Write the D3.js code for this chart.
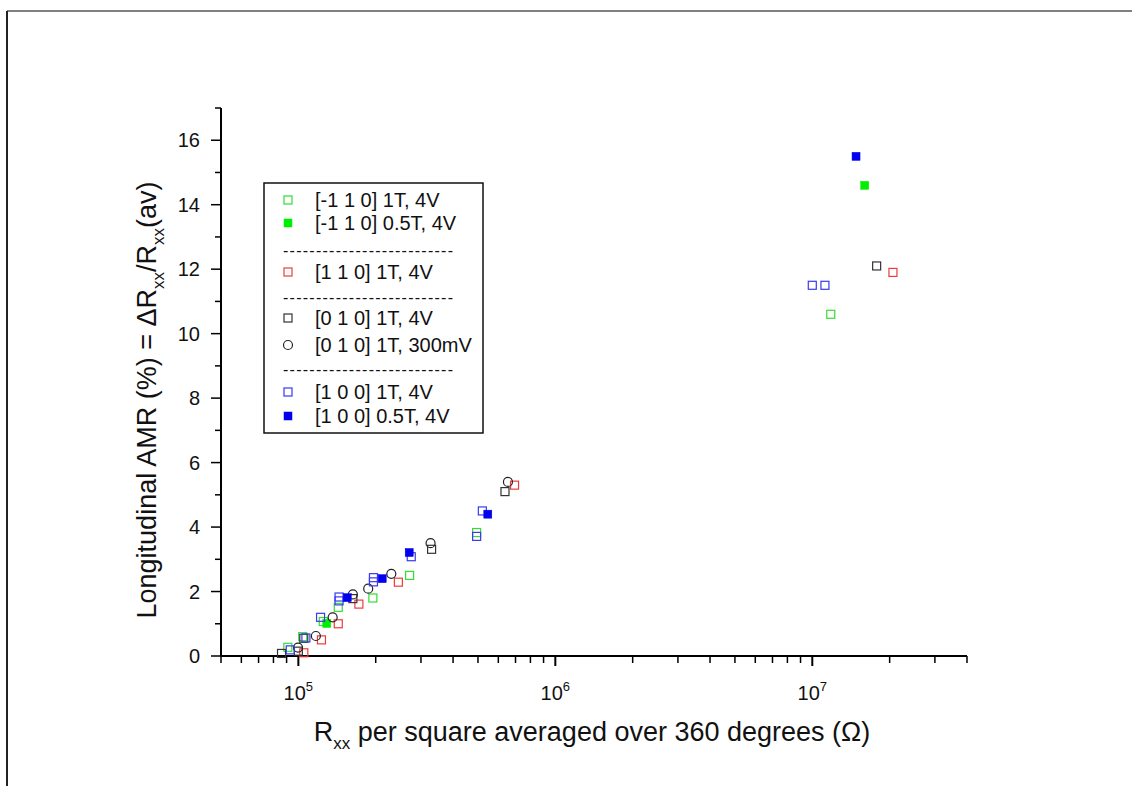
<!DOCTYPE html>
<html>
<head>
<meta charset="utf-8">
<script src="https://cdn.jsdelivr.net/npm/d3@7"></script>
<style>
  body { margin: 0; background: #fff; }
  svg { display: block; font-family: Arial, "Liberation Sans", sans-serif; }
</style>
</head>
<body>
<div id="chart"></div>
<script>
// data: [R_xx (ohm), AMR (%)]
const greenOpen = [[9.1e4, 0.27], [1.04e5, 0.6], [1.25e5, 1.07], [1.43e5, 1.51], [1.95e5, 1.8], [2.71e5, 2.5], [4.94e5, 3.83], [1.18e7, 10.6]];
const greenFilled = [[1.29e5, 1.01], [1.6e7, 14.6]];
const redOpen = [[1.05e5, 0.1], [1.23e5, 0.5], [1.43e5, 1.0], [1.72e5, 1.61], [2.45e5, 2.29], [6.94e5, 5.3], [2.06e7, 11.9]];
const blackOpen = [[8.6e4, 0.08], [1.0e5, 0.15], [1.05e5, 0.55], [1.63e5, 1.78], [3.3e5, 3.31], [6.37e5, 5.1], [1.78e7, 12.1]];
const circles = [[9.97e4, 0.26], [1.17e5, 0.62], [1.36e5, 1.2], [1.63e5, 1.91], [1.87e5, 2.09], [2.3e5, 2.55], [3.27e5, 3.5], [6.54e5, 5.4]];
const blueOpen = [[9.3e4, 0.19], [1.07e5, 0.56], [1.22e5, 1.2], [1.44e5, 1.83], [1.44e5, 1.71], [1.96e5, 2.43], [1.96e5, 2.3], [2.75e5, 3.08], [4.94e5, 3.71], [5.2e5, 4.5], [1.0e7, 11.5], [1.12e7, 11.5]];
const blueFilled = [[1.55e5, 1.81], [2.12e5, 2.4], [2.7e5, 3.21], [5.46e5, 4.4], [1.48e7, 15.5]];

const yMajor = [0, 2, 4, 6, 8, 10, 12, 14, 16];
const xDecades = [5, 6, 7];

const series = [
  { name: "[-1 1 0] 1T, 4V", data: greenOpen, shape: "square", fill: "none", stroke: "#33dd33" },
  { name: "[-1 1 0] 0.5T, 4V", data: greenFilled, shape: "square", fill: "#00ee00", stroke: "#00ee00" },
  { name: "sep" },
  { name: "[1 1 0] 1T, 4V", data: redOpen, shape: "square", fill: "none", stroke: "#ee3b3b" },
  { name: "sep" },
  { name: "[0 1 0] 1T, 4V", data: blackOpen, shape: "square", fill: "none", stroke: "#333" },
  { name: "[0 1 0] 1T, 300mV", data: circles, shape: "circle", fill: "none", stroke: "#222" },
  { name: "sep" },
  { name: "[1 0 0] 1T, 4V", data: blueOpen, shape: "square", fill: "none", stroke: "#3a3aee" },
  { name: "[1 0 0] 0.5T, 4V", data: blueFilled, shape: "square", fill: "#0000ee", stroke: "#0000ee" }
];

const width = 1132, height = 786;
const svg = d3.select("#chart").append("svg")
  .attr("width", width)
  .attr("height", height);

// page frame
svg.append("line").attr("x1", 7).attr("y1", 11).attr("x2", width).attr("y2", 11)
  .attr("stroke", "#808080").attr("stroke-width", 2);
svg.append("line").attr("x1", 7).attr("y1", 11).attr("x2", 7).attr("y2", height)
  .attr("stroke", "#222").attr("stroke-width", 2);

const x = d3.scaleLog().domain([5e4, 4e7]).range([221, 967]);
const y = d3.scaleLinear().domain([0, 17]).range([656, 108]);

// x axis
const xMinor = [];
for (let e = 4; e <= 7; e++) {
  for (let m = 1; m <= 9; m++) {
    const v = m * Math.pow(10, e);
    if (v >= 5e4 && v <= 4e7 && m !== 1) xMinor.push(v);
  }
}
const gx = svg.append("g");
gx.append("line").attr("x1", x.range()[0]).attr("x2", x.range()[1])
  .attr("y1", y(0)).attr("y2", y(0)).attr("stroke", "#000").attr("stroke-width", 2);
gx.selectAll(".xminor").data(xMinor).enter().append("line")
  .attr("x1", (d) => x(d)).attr("x2", (d) => x(d))
  .attr("y1", y(0)).attr("y2", y(0) + 7)
  .attr("stroke", "#000").attr("stroke-width", 1.5);
gx.selectAll(".xmajor").data(xDecades).enter().append("line")
  .attr("x1", (d) => x(Math.pow(10, d))).attr("x2", (d) => x(Math.pow(10, d)))
  .attr("y1", y(0)).attr("y2", y(0) + 10)
  .attr("stroke", "#000").attr("stroke-width", 2);
const xl = gx.selectAll(".xlab").data(xDecades).enter().append("text")
  .attr("x", (d) => x(Math.pow(10, d)))
  .attr("y", 700)
  .attr("text-anchor", "middle")
  .attr("font-size", 20)
  .attr("fill", "#111");
xl.append("tspan").text("10");
xl.append("tspan").attr("dy", -9).attr("font-size", 13).text((d) => d);

// y axis
const gy = svg.append("g");
gy.append("line").attr("x1", x.range()[0]).attr("x2", x.range()[0])
  .attr("y1", y(0)).attr("y2", y(17)).attr("stroke", "#000").attr("stroke-width", 2);
gy.selectAll(".ymajor").data(yMajor).enter().append("line")
  .attr("x1", x.range()[0] - 10).attr("x2", x.range()[0])
  .attr("y1", (d) => y(d)).attr("y2", (d) => y(d))
  .attr("stroke", "#000").attr("stroke-width", 1.5);
gy.selectAll(".yminor").data(yMajor.map((d) => d + 1)).enter().append("line")
  .attr("x1", x.range()[0] - 6).attr("x2", x.range()[0])
  .attr("y1", (d) => y(d)).attr("y2", (d) => y(d))
  .attr("stroke", "#000").attr("stroke-width", 1.5);
gy.selectAll(".ylab").data(yMajor).enter().append("text")
  .attr("x", 200)
  .attr("y", (d) => y(d))
  .attr("dy", "0.36em")
  .attr("text-anchor", "end")
  .attr("font-size", 20)
  .attr("fill", "#111")
  .text((d) => d);

// axis titles
const xt = svg.append("text")
  .attr("x", 592).attr("y", 741)
  .attr("text-anchor", "middle")
  .attr("font-size", 27)
  .attr("fill", "#111");
xt.append("tspan").text("R");
xt.append("tspan").attr("dy", 8).attr("font-size", 17).text("xx");
xt.append("tspan").attr("dy", -8).text(" per square averaged over 360 degrees (\u03a9)");

const yt = svg.append("text")
  .attr("transform", "translate(156,400) rotate(-90)")
  .attr("text-anchor", "middle")
  .attr("font-size", 27)
  .attr("fill", "#111");
yt.append("tspan").text("Longitudinal AMR (%) = \u0394R");
yt.append("tspan").attr("dy", 8).attr("font-size", 17).text("xx");
yt.append("tspan").attr("dy", -8).text("/R");
yt.append("tspan").attr("dy", 8).attr("font-size", 17).text("xx");
yt.append("tspan").attr("dy", -8).text("(av)");

// markers
const s = 8;
function drawMarks(g, d, sx, sy) {
  if (d.shape === "circle") {
    g.append("circle").attr("cx", sx).attr("cy", sy).attr("r", 4.5)
      .attr("fill", "#fff").attr("fill-opacity", 0).attr("stroke", d.stroke).attr("stroke-width", 1.2);
  } else {
    g.append("rect").attr("x", sx - s / 2).attr("y", sy - s / 2)
      .attr("width", s).attr("height", s)
      .attr("fill", d.fill).attr("stroke", d.stroke).attr("stroke-width", d.fill === "none" ? 1.2 : 0.5);
  }
}

const plot = svg.append("g");
series.filter((d) => d.data).forEach((d) => {
  d.data.forEach((p) => drawMarks(plot, d, x(p[0]), y(p[1])));
});

// legend
const legend = svg.append("g");
legend.append("rect").attr("x", 264).attr("y", 183).attr("width", 219).attr("height", 250)
  .attr("fill", "#fff").attr("stroke", "#111").attr("stroke-width", 1.5);
const rowY = [200, 223, 250, 272, 297, 318, 345, 369, 392, 416];
series.forEach((d, i) => {
  if (d.name === "sep") {
    legend.append("text").attr("x", 283).attr("y", rowY[i]).attr("dy", "0.35em")
      .attr("font-size", 16).attr("textLength", 170).attr("lengthAdjust", "spacing")
      .attr("fill", "#111")
      .text("--------------------------");
  } else {
    drawMarks(legend, d, 288, rowY[i]);
    legend.append("text").attr("x", 315).attr("y", rowY[i]).attr("dy", "0.36em")
      .attr("font-size", 20).attr("fill", "#111").text(d.name);
  }
});
</script>
</body>
</html>
